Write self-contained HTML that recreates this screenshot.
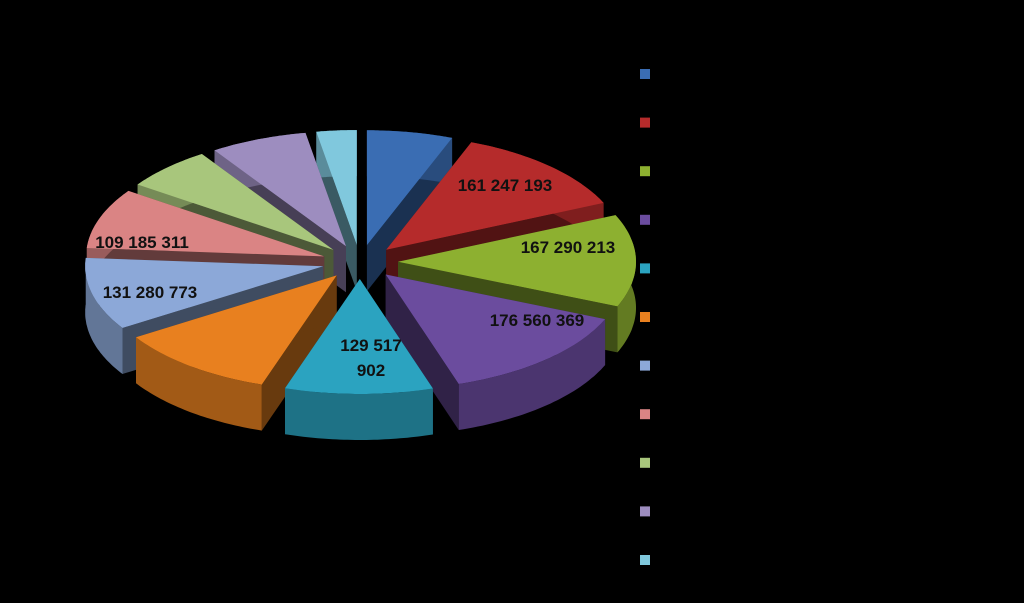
<!DOCTYPE html>
<html><head><meta charset="utf-8"><style>
html,body{margin:0;padding:0;background:#000;}
svg{display:block;}
text{font-family:"Liberation Sans",sans-serif;font-weight:bold;}
</style></head><body>
<svg id="chart" width="1024" height="603" viewBox="0 0 1024 603">
<rect width="1024" height="603" fill="#000"/>
<g id="slices"></g>
<g id="labels"></g>
<g id="legend"></g>
</svg>
<script>
const categories = ["s1","s2","s3","s4","s5","s6","s7","s8","s9","s10","s11"];
const values = [75000000,161247193,167290213,176560369,129517902,140000000,131280773,109185311,78000000,85000000,35000000];
const labelTexts = ["","161 247 193","167 290 213","176 560 369","129 517|902","","131 280 773","109 185 311","","",""];
const colors = ["#3a6db3","#b52b2b","#8db030","#6b4c9e","#2ba3c0","#e8801f","#8ca8d8","#da8484","#a8c67c","#9d8dbf","#80c8dd"];

const NS="http://www.w3.org/2000/svg";
const cx=360, cy=262, rx=238, ry=115, depth=46, exX=38, exY=17;
const total=values.reduce((a,b)=>a+b,0);
function shade(hex,f){const n=parseInt(hex.slice(1),16);let r=(n>>16)&255,g=(n>>8)&255,b=n&255;return `rgb(${Math.round(r*f)},${Math.round(g*f)},${Math.round(b*f)})`;}
function pt(a,r,ox,oy,dz){return [cx+ox+r*rx*Math.sin(a), cy+oy-r*ry*Math.cos(a)+(dz||0)];}
function mk(tag,attrs){const e=document.createElementNS(NS,tag);for(const k in attrs)e.setAttribute(k,attrs[k]);return e;}
const slicesG=document.getElementById('slices');
let acc=0;const sl=[];
values.forEach((v,i)=>{const a0=acc/total*2*Math.PI;acc+=v;const a1=acc/total*2*Math.PI;const m=(a0+a1)/2;
 sl.push({i,a0,a1,m,ox:exX*Math.sin(m),oy:-exY*Math.cos(m)});});
const order=sl.slice().sort((p,q)=>(-Math.cos(p.m))-(-Math.cos(q.m)));
order.forEach(s=>{
 const g=mk('g',{});
 
 
 const c=colors[s.i];const N=40;
 const top=[],bot=[];
 for(let k=0;k<=N;k++){const a=s.a0+(s.a1-s.a0)*k/N;top.push(pt(a,1,s.ox,s.oy));bot.push(pt(a,1,s.ox,s.oy,depth));}
 const C=pt(0,0,s.ox,s.oy),Cd=pt(0,0,s.ox,s.oy,depth);
 const P=arr=>arr.map(p=>p[0].toFixed(1)+','+p[1].toFixed(1)).join(' ');
 [[C,top[0],bot[0],Cd],[C,top[N],bot[N],Cd]].forEach(q=>{const w=mk('polygon',{points:P(q),fill:shade(c,0.45)});g.appendChild(w);});
 const outer=mk('polygon',{points:P(top.concat(bot.slice().reverse())),fill:shade(c,0.7)});g.appendChild(outer);
 const tp=mk('polygon',{points:P([C].concat(top)),fill:c});g.appendChild(tp);
 slicesG.appendChild(g);
});
const lab=document.getElementById('labels');
const labelPos=[[0,0],[505,185],[568,247],[537,320],[371,345],[0,0],[150,292],[142,242],[0,0],[0,0],[0,0]];
labelTexts.forEach((t,i)=>{if(!t)return;const lines=t.split('|');
 lines.forEach((ln,j)=>{const e=mk('text',{x:labelPos[i][0],y:labelPos[i][1]+6+j*25,'text-anchor':'middle','font-size':'17',fill:'#111'});
 
 
 e.textContent=ln;lab.appendChild(e);});});
const leg=document.getElementById('legend');
categories.forEach((cName,i)=>{const y=74+i*48.6;
 const r=mk('rect',{x:640,y:y-5,width:10,height:10,fill:colors[i]});
 
 
 leg.appendChild(r);});
</script>
</body></html>
